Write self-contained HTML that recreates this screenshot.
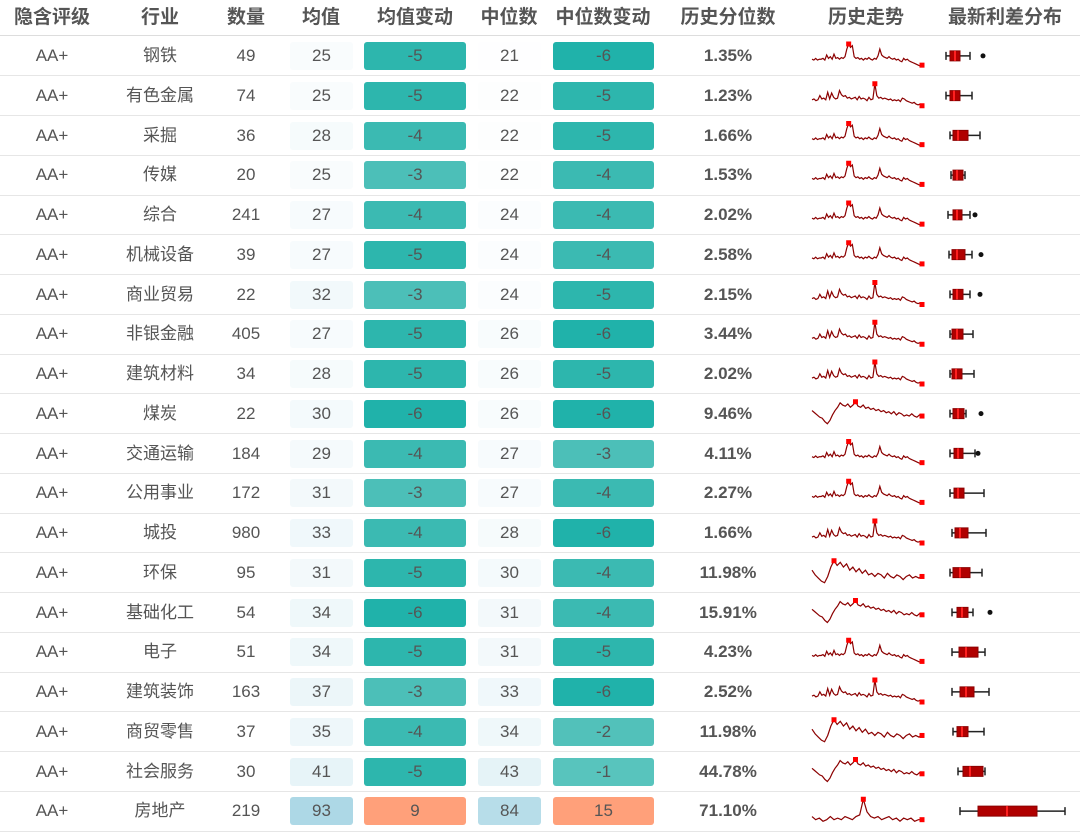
<!DOCTYPE html>
<html><head><meta charset="utf-8">
<style>
body{margin:0;width:1080px;height:831px;background:#fff;overflow:hidden;font-family:"Liberation Sans","Noto Sans CJK SC",sans-serif;color:#555}
#t{position:relative;width:1080px;height:831px}
.c{position:absolute;text-align:center;font-size:17px;line-height:39.75px;height:39.75px}
.h{position:absolute;top:0;height:36px;line-height:36px;font-size:19px;font-weight:bold;color:#555;text-align:center}
.box{position:absolute;border-radius:3px;text-align:center;font-size:17px;line-height:28px;height:28px}
.line{position:absolute;left:0;width:1080px;height:1px;background:#e6e6e6}
</style></head><body>
<div id="t"></div>
<svg id="s" width="1080" height="831" style="position:absolute;left:0;top:0"></svg>
<script>
const industries=["钢铁","有色金属","采掘","传媒","综合","机械设备","商业贸易","非银金融","建筑材料","煤炭","交通运输","公用事业","城投","环保","基础化工","电子","建筑装饰","商贸零售","社会服务","房地产"];
const counts=[49,74,36,20,241,39,22,405,34,22,184,172,980,95,54,51,163,37,30,219];
const means=[25,25,28,25,27,27,32,27,28,30,29,31,33,31,34,34,37,35,41,93];
const meanChg=[-5,-5,-4,-3,-4,-5,-3,-5,-5,-6,-4,-3,-4,-5,-6,-5,-3,-4,-5,9];
const medians=[21,22,22,22,24,24,24,26,26,26,27,27,28,30,31,31,33,34,43,84];
const medChg=[-6,-5,-5,-4,-4,-4,-5,-6,-5,-6,-3,-4,-6,-4,-4,-5,-6,-2,-1,15];
const pct=["1.35%","1.23%","1.66%","1.53%","2.02%","2.58%","2.15%","3.44%","2.02%","9.46%","4.11%","2.27%","1.66%","11.98%","15.91%","4.23%","2.52%","11.98%","44.78%","71.10%"];
const shapeA=[3,2.9,3.1,2.9,3,3,3.1,2.9,3.5,3.1,3.3,3,3.6,3.1,3.2,3,3.2,3.1,3.3,4.2,4.8,4.4,4.6,3.3,3.1,3.2,3,3.1,2.9,3.1,3,3.2,3,2.9,3.1,3,3.4,4.2,3.5,3.3,3.2,3.1,3.3,3.1,3,3.1,2.9,3,2.8,2.7,3.1,2.9,3,2.8,2.7,2.6,2.5,2.4,2.3,2.2,2.3];
const shapeA2=[3,3.1,2.9,3,3.5,3.1,3.2,3,3.9,3.1,3.8,3.3,3.1,3.2,4.1,3.6,3.4,3.5,3.2,3.3,3.1,3.2,3.3,3,3.4,3.1,3.2,3.1,2.9,3.3,3.0,3.1,4.9,3.5,3.2,3.3,3.1,3.2,3.1,3,3.1,2.9,3,2.9,3,2.8,3.2,3.1,2.9,2.8,2.7,2.6,2.7,2.5,2.4,2.5,2.3];
const shapeB=[3,2.8,2.6,2.4,2.3,2,1.8,2.1,2.6,3,3.3,3.7,3.5,3.4,3.6,3.3,3.5,3.8,3.4,3.3,3.5,3.2,3.3,3.1,3.2,3,3.1,2.9,3,2.8,2.9,2.7,2.9,2.6,2.8,2.7,2.5,2.6,2.5,2.7,2.5,2.4,2.6,2.5];
const shapeC=[3,2.7,2.5,2.3,2.2,2.6,3.2,3.6,3.3,3.5,3.2,3.4,3,3.2,2.9,3.1,2.8,3,2.7,2.8,2.6,2.8,2.7,2.5,2.8,2.6,2.5,2.7,2.6,2.4,2.6,2.7,2.5,2.6,2.5,2.6];
const shapeD=[2.6,2.4,2.5,2.3,2.4,2.6,2.4,2.5,2.4,2.6,2.5,2.4,2.6,2.7,3.7,2.9,2.6,2.5,2.6,2.4,2.5,2.6,2.4,2.5,2.3,2.5,2.4,2.5,2.3,2.4,2.4];
const shapeIdx=["A","A2","A","A","A","A","A2","A2","A2","B","A","A","A2","C","B","A","A2","C","B","D"];
const bxMin=[6,6,10,11,8,9,10,10,10,10,10,10,12,10,12,12,12,13,18,20];
const bxQ1=[10,10,13,13,13,12,13,12,12,13,14,14,15,13,17,19,20,17,23,38];
const bxMed=[15,14,18,17,17,17,17,17,16,18,18,18,20,20,22,26,26,22,30,67];
const bxQ3=[20,20,28,23,22,25,23,23,22,24,23,24,28,30,28,38,34,28,43,97];
const bxMax=[30,32,40,25,30,32,30,33,34,26,35,44,46,42,33,45,49,44,45,125];
const bxOut=[43,null,null,null,35,41,40,null,null,41,38,null,null,null,50,null,null,null,null,null];
</script>
<script>
const T=document.getElementById('t'),S=document.getElementById('s');
const NS='http://www.w3.org/2000/svg';
const cols=[52,160,246,321,415,509,603,728,866,1005];
const heads=["隐含评级","行业","数量","均值","均值变动","中位数","中位数变动","历史分位数","历史走势","最新利差分布"];
const RH=39.75,TOP=36;
heads.forEach((h,i)=>{const d=document.createElement('div');d.className='h';d.style.left=(cols[i]-70)+'px';d.style.width='140px';d.textContent=h;


T.appendChild(d);});
function bgScale(v){const t=Math.max(0,Math.min(1,(v-20)/73));const r=Math.round(255-(255-173)*t),g=Math.round(255-(255-216)*t),b=Math.round(255-(255-230)*t);return `rgb(${r},${g},${b})`;}
function chgColor(v){if(v>0)return '#ffa07a';const m={'-6':'#20b2aa','-5':'#2db6ad','-4':'#3bbab2','-3':'#4cbfb8','-2':'#52c1ba','-1':'#58c4bd'};return m[v]||'#60c6c0';}
function cell(x,y,txt,cls,name){const d=document.createElement('div');d.className='c';d.style.left=(x-70)+'px';d.style.width='140px';d.style.top=y+'px';d.textContent=txt;if(cls)d.style.fontWeight='bold';


T.appendChild(d);}
function box(x,w,y,txt,bg,name){const d=document.createElement('div');d.className='box';d.style.left=x+'px';d.style.width=w+'px';d.style.top=(y+6)+'px';d.style.background=bg;d.textContent=txt;


T.appendChild(d);}
const ln=document.createElement('div');ln.className='line';ln.style.top='35px';ln.style.background='#ddd';T.appendChild(ln);
const shapes={A:shapeA,A2:shapeA2,B:shapeB,C:shapeC,D:shapeD};
const bx=v=>940+v;
function el(tag,a){const e=document.createElementNS(NS,tag);for(const k in a)e.setAttribute(k,a[k]);S.appendChild(e);return e;}
industries.forEach((ind,i)=>{
 const y=TOP+i*RH;
 cell(cols[0],y,'AA+',0,'rating-cell');
 cell(cols[1],y,ind,0,'industry-cell');
 cell(cols[2],y,counts[i],0,'count-cell');
 box(290,63,y,means[i],bgScale(means[i]),'mean-cell');
 box(364,102,y,meanChg[i],chgColor(meanChg[i]),'mean-change-cell');
 box(478,63,y,medians[i],bgScale(medians[i]),'median-cell');
 box(553,101,y,medChg[i],chgColor(medChg[i]),'median-change-cell');
 cell(cols[7],y,pct[i],1,'percentile-cell');
 const l=document.createElement('div');l.className='line';l.style.top=(y+RH-0.5)+'px';T.appendChild(l);
 const d=shapes[shapeIdx[i]];const mn=Math.min(...d),mx=Math.max(...d);
 const sx=k=>812+k*(110/(d.length-1)),sy=v=>y+30-(v-mn)/(mx-mn)*22;
 const p=el('polyline',{points:d.map((v,k)=>sx(k)+','+sy(v)).join(' '),fill:'none',stroke:'#8b0000','stroke-width':1.2});
 
 
 const im=d.indexOf(mx),il=d.length-1;
 [[im,mx],[il,d[il]]].forEach(([k,v])=>{const r=el('rect',{x:sx(k)-2.5,y:sy(v)-2.5,width:5,height:5,fill:'#ff0000'});
 
 });
 const cy=y+RH/2;
 el('line',{x1:bx(bxMin[i]),x2:bx(bxMax[i]),y1:cy,y2:cy,stroke:'#222','stroke-width':1.5});
 el('line',{x1:bx(bxMin[i]),x2:bx(bxMin[i]),y1:cy-4,y2:cy+4,stroke:'#222','stroke-width':1.5});
 el('line',{x1:bx(bxMax[i]),x2:bx(bxMax[i]),y1:cy-4,y2:cy+4,stroke:'#222','stroke-width':1.5});
 const b=el('rect',{x:bx(bxQ1[i]),y:cy-5,width:bx(bxQ3[i])-bx(bxQ1[i]),height:10,fill:'#b00000',stroke:'#8b0000'});
 
 
 el('line',{x1:bx(bxMed[i]),x2:bx(bxMed[i]),y1:cy-5,y2:cy+5,stroke:'#ff2020','stroke-width':2});
 if(bxOut[i]!==null){const o=el('circle',{cx:bx(bxOut[i]),cy:cy,r:2.5,fill:'#111'});
 
 }
});
</script>
</body></html>
